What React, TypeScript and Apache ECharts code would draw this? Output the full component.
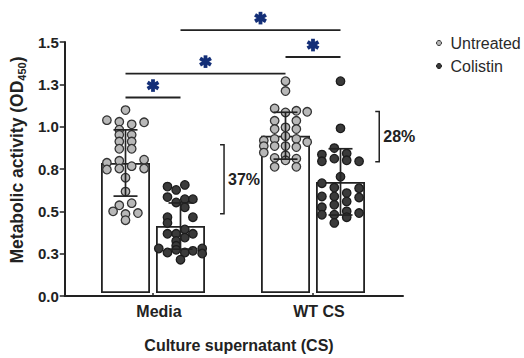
import React, { useEffect, useRef } from "react";
import * as echarts from "echarts";

// ---------- data ----------
const categories = ["Media", "WT CS"];
const yTickLabels = ["0.0", "0.3", "0.5", "0.8", "1.0", "1.3", "1.5"];
const seriesNames = ["Untreated", "Colistin"];

const untreatedMean = [0.777, 0.94];
const untreatedSD = [0.198, 0.14];
const colistinMean = [0.4, 0.664];
const colistinSD = [0.138, 0.198];

// individual replicates (value) and their horizontal jitter slot
const mediaUntreatedValues = [1.093, 1.033, 1.023, 1.008, 1.02, 0.976, 0.945, 0.945, 0.905, 0.905, 0.862, 0.862, 0.778, 0.79, 0.797, 0.738, 0.744, 0.758, 0.744, 0.689, 0.606, 0.537, 0.524, 0.488, 0.472, 0.478, 0.435];
const mediaUntreatedJitter = [0, -3, -1, 1, 3, -1, -1, 1, -1, 1, -1, 1, -3, -1, 3, -3, -1, 1, 3, 0, 0, 1, -1, -2, 0, 2, 0];

const mediaColistinValues = [0.636, 0.646, 0.616, 0.573, 0.541, 0.561, 0.561, 0.512, 0.453, 0.419, 0.453, 0.38, 0.354, 0.354, 0.354, 0.311, 0.331, 0.282, 0.266, 0.242, 0.258, 0.242, 0.252, 0.266, 0.236, 0.199];
const mediaColistinJitter = [-2.1, 0.7, -0.7, -2.1, -0.7, 0.7, 2.0, 0.7, -2.1, -2.1, 2.0, 0.7, -2.1, -0.7, 2.0, -0.7, 0.7, -0.7, -3.5, -2.1, -0.7, 0.7, 2.0, 3.5, 3.5, 0];

const wtUntreatedValues = [1.266, 1.207, 1.103, 1.079, 1.089, 1.083, 1.029, 0.98, 0.99, 1.029, 0.98, 0.911, 0.878, 0.839, 0.921, 0.878, 0.807, 0.754, 0.937, 0.878, 0.823, 0.793, 0.921, 0.872, 0.803, 0.754, 0.902];
const wtUntreatedJitter = [0, 0, -1.75, 0, 1.75, 3.5, -1.75, -1.75, 0, 1.75, 1.75, -3.5, -3.5, -3.5, -1.75, -1.75, -1.75, -1.75, 0, 0, 0, 0, 1.75, 1.75, 1.75, 1.75, 3.5];

const wtColistinValues = [1.266, 0.984, 0.866, 0.827, 0.787, 0.803, 0.833, 0.793, 0.787, 0.695, 0.656, 0.63, 0.597, 0.626, 0.577, 0.577, 0.571, 0.547, 0.512, 0.527, 0.488, 0.478, 0.468, 0.468, 0.453, 0.419];
const wtColistinJitter = [0, 0, -1, -3, -3, -1, 1, 1, 3, 0, -3, -1, 1, 3, -3, -1, 3, 1, -3, -1, 1, 3, -3, -1, 1, -1];

// significance comparisons: bar ids 0=Media/Untreated 1=Media/Colistin 2=WT/Untreated 3=WT/Colistin
const sigFrom = [0, 0, 2, 1];
const sigTo = [1, 2, 3, 3];
const sigHeight = [1.168, 1.311, 1.41, 1.571];

// percent reduction brackets
const pctLabels = ["37%", "28%"];
const pctTop = [0.886, 1.085];
const pctBottom = [0.474, 0.784];
const pctPos = [0.944, 1.914];

// ---------- layout / style ----------
const W = 524;
const H = 358;
const GRID_TOP = 42;
const GRID_BOTTOM = 62;
const AXIS_LEFT = 61;
const AXIS_RIGHT = 121;
const PLOT_LEFT = 73;
const PLOT_RIGHT = 131;
const BAND = (W - PLOT_LEFT - PLOT_RIGHT) / categories.length;
const BAR_W = 49;
const BAR_GAP = 6;
const BAR_OFFSET = (BAR_W + BAR_GAP) / 2 / BAND;
const JITTER_STEP = 6.2 / BAND;
const CAP = 24;
const FONT = "'Liberation Sans', Arial, Helvetica, sans-serif";
const INK = "#222";
const STAR = "#142f78";

const barX = (cat: number, s: number) => cat + 0.5 + (s === 0 ? -BAR_OFFSET : BAR_OFFSET);
const barXById = (id: number) => barX(Math.floor(id / 2), id % 2);

const pts = (cat: number, s: number, vals: number[], jit: number[]) =>
  vals.map((v, i) => [barX(cat, s) + jit[i] * JITTER_STEP, v]);

export default function App() {
  const ref = useRef<HTMLDivElement>(null);
  useEffect(() => {
    if (!ref.current) return;
    const chart = echarts.init(ref.current, null, { renderer: "svg" });

    const untreatedPts = [
      ...pts(0, 0, mediaUntreatedValues, mediaUntreatedJitter),
      ...pts(1, 0, wtUntreatedValues, wtUntreatedJitter),
    ];
    const colistinPts = [
      ...pts(0, 1, mediaColistinValues, mediaColistinJitter),
      ...pts(1, 1, wtColistinValues, wtColistinJitter),
    ];
    const errData = [
      [barX(0, 0), untreatedMean[0], untreatedSD[0]],
      [barX(0, 1), colistinMean[0], colistinSD[0]],
      [barX(1, 0), untreatedMean[1], untreatedSD[1]],
      [barX(1, 1), colistinMean[1], colistinSD[1]],
    ];
    const sigData = sigFrom.map((f, i) => [barXById(f), barXById(sigTo[i]), sigHeight[i]]);
    const pctData = pctLabels.map((_, i) => [pctPos[i], pctTop[i], pctBottom[i]]);

    const option: any = {
      animation: false,
      textStyle: { fontFamily: FONT },
      grid: [
        { left: AXIS_LEFT, right: AXIS_RIGHT, top: GRID_TOP, bottom: GRID_BOTTOM },
        { left: PLOT_LEFT, right: PLOT_RIGHT, top: GRID_TOP, bottom: GRID_BOTTOM },
      ],
      legend: {
        data: seriesNames.map((n) => ({ name: n, icon: "circle" })),
        orient: "vertical",
        left: 436,
        top: 35,
        padding: 0,
        itemWidth: 5,
        itemHeight: 5,
        itemGap: 7,
        itemStyle: { borderWidth: 1 },
        textStyle: { fontFamily: FONT, fontSize: 16, color: "#2a2a2a", padding: [0, 0, 0, 4] },
      },
      xAxis: [
        {
          type: "value",
          gridIndex: 0,
          min: 0,
          max: 1,
          axisLine: { show: true, onZero: false, lineStyle: { color: INK, width: 2 } },
          axisTick: { show: false },
          axisLabel: { show: false },
          splitLine: { show: false },
        },
        {
          type: "category",
          gridIndex: 1,
          data: categories,
          axisLine: { show: false },
          axisTick: { show: true, alignWithLabel: true, length: 3, lineStyle: { color: INK, width: 1.5 } },
          axisLabel: {
            margin: 10,
            fontFamily: FONT,
            fontWeight: "bold",
            fontSize: 16,
            color: INK,
            padding: [0, 0, 0, 12],
          },
          name: "Culture supernatant (CS)",
          nameLocation: "middle",
          nameGap: 44,
          nameTextStyle: { fontFamily: FONT, fontWeight: "bold", fontSize: 16, color: INK, padding: [0, 0, 0, 12] },
        },
        { type: "value", gridIndex: 1, min: 0, max: categories.length, show: false },
      ],
      yAxis: [
        {
          type: "value",
          gridIndex: 0,
          min: 0,
          max: 1.5,
          interval: 0.25,
          axisLine: { show: true, lineStyle: { color: INK, width: 2 } },
          axisTick: { show: true, length: 5, lineStyle: { color: INK, width: 1.5 } },
          splitLine: { show: false },
          axisLabel: {
            margin: 6,
            fontFamily: FONT,
            fontWeight: "bold",
            fontSize: 15,
            color: INK,
            formatter: (v: number) => yTickLabels[Math.round(v / 0.25)],
          },
          name: "Metabolic activity (OD{s|450})",
          nameLocation: "middle",
          nameGap: 28,
          nameTextStyle: {
            fontFamily: FONT,
            fontWeight: "bold",
            fontSize: 17.5,
            color: INK,
            padding: [0, 0, 0, 18],
            rich: { s: { fontFamily: FONT, fontWeight: "bold", fontSize: 11, color: INK, verticalAlign: "bottom", lineHeight: 20 } },
          },
        },
        { type: "value", gridIndex: 1, min: 0, max: 1.5, show: false },
      ],
      series: [
        {
          type: "bar",
          name: "UntreatedBar",
          xAxisIndex: 1,
          yAxisIndex: 1,
          data: untreatedMean,
          barWidth: BAR_W,
          barGap: ((BAR_GAP / BAR_W) * 100).toFixed(2) + "%",
          itemStyle: { color: "#ffffff", borderColor: INK, borderWidth: 1.8 },
          z: 2,
        },
        {
          type: "bar",
          name: "ColistinBar",
          xAxisIndex: 1,
          yAxisIndex: 1,
          data: colistinMean,
          barWidth: BAR_W,
          barGap: ((BAR_GAP / BAR_W) * 100).toFixed(2) + "%",
          itemStyle: { color: "#ffffff", borderColor: INK, borderWidth: 1.8 },
          z: 2,
        },
        {
          type: "scatter",
          name: "Untreated",
          xAxisIndex: 2,
          yAxisIndex: 1,
          data: untreatedPts,
          symbol: "circle",
          symbolSize: 8.5,
          itemStyle: { color: "#b8b8b8", borderColor: "#333333", borderWidth: 1.3, opacity: 1 },
          z: 3,
        },
        {
          type: "scatter",
          name: "Colistin",
          xAxisIndex: 2,
          yAxisIndex: 1,
          data: colistinPts,
          symbol: "circle",
          symbolSize: 8.5,
          itemStyle: { color: "#3a3a3a", borderColor: "#1c1c1c", borderWidth: 1.3, opacity: 1 },
          z: 3,
        },
        {
          type: "custom",
          name: "errorbars",
          xAxisIndex: 2,
          yAxisIndex: 1,
          clip: false,
          z: 4,
          data: errData,
          renderItem: (params: any, api: any) => {
            const x = api.value(0);
            const m = api.value(1);
            const sd = api.value(2);
            const t = api.coord([x, m + sd]);
            const b = api.coord([x, m - sd]);
            const st = { stroke: INK, lineWidth: 1.7 };
            return {
              type: "group",
              children: [
                { type: "line", shape: { x1: t[0], y1: t[1], x2: b[0], y2: b[1] }, style: st },
                { type: "line", shape: { x1: t[0] - CAP / 2, y1: t[1], x2: t[0] + CAP / 2, y2: t[1] }, style: st },
                { type: "line", shape: { x1: b[0] - CAP / 2, y1: b[1], x2: b[0] + CAP / 2, y2: b[1] }, style: st },
              ],
            };
          },
        },
        {
          type: "custom",
          name: "significance",
          xAxisIndex: 2,
          yAxisIndex: 1,
          clip: false,
          z: 5,
          data: sigData,
          renderItem: (params: any, api: any) => {
            const a = api.coord([api.value(0), api.value(2)]);
            const b = api.coord([api.value(1), api.value(2)]);
            const cx = (a[0] + b[0]) / 2;
            const cy = a[1] - 12;
            const r = 6.3;
            const arms = [90, 30, 150].map((deg) => {
              const rad = (deg * Math.PI) / 180;
              const dx = Math.cos(rad) * r;
              const dy = Math.sin(rad) * r;
              return {
                type: "line",
                shape: { x1: cx - dx, y1: cy - dy, x2: cx + dx, y2: cy + dy },
                style: { stroke: STAR, lineWidth: 3.8 },
              };
            });
            return {
              type: "group",
              children: [
                { type: "line", shape: { x1: a[0], y1: a[1], x2: b[0], y2: b[1] }, style: { stroke: INK, lineWidth: 1.9 } },
                ...arms,
              ],
            };
          },
        },
        {
          type: "custom",
          name: "brackets",
          xAxisIndex: 2,
          yAxisIndex: 1,
          clip: false,
          z: 5,
          data: pctData,
          renderItem: (params: any, api: any) => {
            const t = api.coord([api.value(0), api.value(1)]);
            const b = api.coord([api.value(0), api.value(2)]);
            return {
              type: "group",
              children: [
                {
                  type: "polyline",
                  shape: { points: [[t[0] - 4, t[1]], [t[0], t[1]], [b[0], b[1]], [b[0] - 4, b[1]]] },
                  style: { stroke: INK, lineWidth: 1.5, fill: "none" },
                },
                {
                  type: "text",
                  x: t[0] + 4,
                  y: (t[1] + b[1]) / 2,
                  style: {
                    text: pctLabels[params.dataIndex],
                    fill: INK,
                    fontFamily: FONT,
                    fontWeight: "bold",
                    fontSize: 16,
                    align: "left",
                    verticalAlign: "middle",
                  },
                },
              ],
            };
          },
        },
      ],
    };
    chart.setOption(option);
    return () => chart.dispose();
  }, []);

  return (
    <div
      ref={ref}
      style={{ position: "fixed", left: 0, top: 0, width: W, height: H, background: "#ffffff" }}
    />
  );
}
